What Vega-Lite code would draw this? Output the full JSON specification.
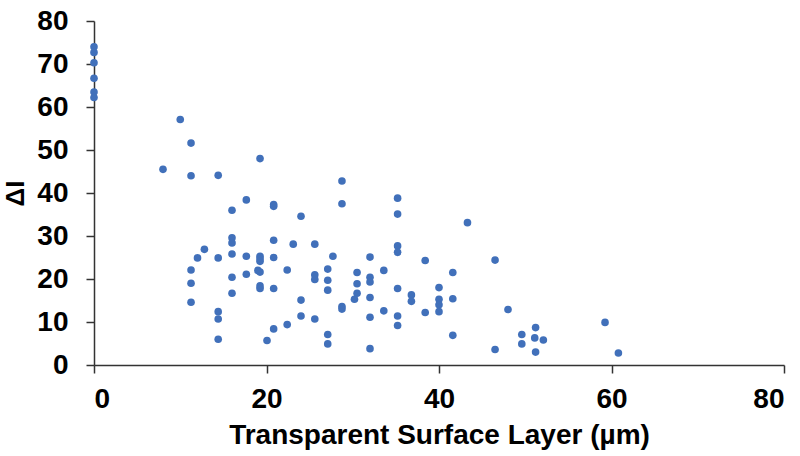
{
  "$schema": "https://vega.github.io/schema/vega-lite/v6.json",
  "width": 690,
  "height": 344,
  "autosize": {"type": "none"},
  "padding": {"left": 94, "top": 21, "right": 16, "bottom": 91},
  "background": "white",
  "config": {"view": {"stroke": null}, "font": "Liberation Sans"},
  "data": {"values": [
    {"x": 0, "y": 74.0}, {"x": 0, "y": 72.7}, {"x": 0, "y": 70.3}, {"x": 0, "y": 66.7}, {"x": 0, "y": 63.5}, {"x": 0, "y": 62.2},
    {"x": 10.0, "y": 57.1}, {"x": 11.25, "y": 51.6}, {"x": 19.25, "y": 48.0}, {"x": 8.0, "y": 45.5}, {"x": 11.25, "y": 44.0}, {"x": 14.4, "y": 44.1},
    {"x": 17.66, "y": 38.4}, {"x": 20.83, "y": 37.3}, {"x": 20.83, "y": 36.9}, {"x": 16.0, "y": 36.0}, {"x": 24.0, "y": 34.6},
    {"x": 16.0, "y": 29.6}, {"x": 16.0, "y": 28.4}, {"x": 20.83, "y": 29.0}, {"x": 23.1, "y": 28.1}, {"x": 25.6, "y": 28.1},
    {"x": 12.8, "y": 26.9}, {"x": 12.0, "y": 24.9}, {"x": 14.4, "y": 24.9}, {"x": 16.0, "y": 25.8}, {"x": 17.66, "y": 25.3},
    {"x": 19.25, "y": 25.3}, {"x": 19.25, "y": 24.7}, {"x": 19.25, "y": 24.1}, {"x": 20.83, "y": 25.0},
    {"x": 11.25, "y": 22.1}, {"x": 22.4, "y": 22.1}, {"x": 27.1, "y": 22.3}, {"x": 19.0, "y": 22.0}, {"x": 19.25, "y": 21.6},
    {"x": 16.0, "y": 20.4}, {"x": 17.66, "y": 21.1}, {"x": 25.6, "y": 21.0}, {"x": 25.6, "y": 19.9}, {"x": 27.1, "y": 19.7},
    {"x": 11.25, "y": 19.0}, {"x": 19.25, "y": 18.4}, {"x": 19.25, "y": 17.8}, {"x": 20.83, "y": 17.8}, {"x": 27.1, "y": 17.4},
    {"x": 16.0, "y": 16.7}, {"x": 24.0, "y": 15.1}, {"x": 11.25, "y": 14.6}, {"x": 14.4, "y": 12.4}, {"x": 14.4, "y": 10.7},
    {"x": 24.0, "y": 11.4}, {"x": 22.4, "y": 9.4}, {"x": 25.6, "y": 10.7}, {"x": 20.83, "y": 8.4}, {"x": 27.1, "y": 7.1},
    {"x": 27.1, "y": 4.9}, {"x": 14.4, "y": 6.0}, {"x": 20.06, "y": 5.7},
    {"x": 28.75, "y": 42.8}, {"x": 28.75, "y": 37.5}, {"x": 35.2, "y": 38.8}, {"x": 35.2, "y": 35.1}, {"x": 43.3, "y": 33.1},
    {"x": 35.2, "y": 27.7}, {"x": 35.2, "y": 26.2}, {"x": 27.7, "y": 25.3}, {"x": 32.0, "y": 25.1}, {"x": 38.4, "y": 24.3},
    {"x": 46.5, "y": 24.4}, {"x": 33.6, "y": 22.0}, {"x": 30.5, "y": 21.5}, {"x": 30.5, "y": 18.9}, {"x": 30.5, "y": 16.7},
    {"x": 30.2, "y": 15.3}, {"x": 32.0, "y": 20.4}, {"x": 32.0, "y": 19.3}, {"x": 32.0, "y": 15.7}, {"x": 32.0, "y": 11.1},
    {"x": 32.0, "y": 3.8}, {"x": 41.6, "y": 21.5}, {"x": 40.0, "y": 18.0}, {"x": 40.0, "y": 15.3}, {"x": 40.0, "y": 14.0},
    {"x": 40.0, "y": 12.4}, {"x": 41.6, "y": 15.4}, {"x": 36.8, "y": 16.3}, {"x": 36.8, "y": 14.8}, {"x": 35.2, "y": 17.8},
    {"x": 35.2, "y": 11.4}, {"x": 35.2, "y": 9.2}, {"x": 33.6, "y": 12.6}, {"x": 38.4, "y": 12.2}, {"x": 28.75, "y": 13.6},
    {"x": 28.75, "y": 13.0}, {"x": 41.6, "y": 6.9}, {"x": 48.0, "y": 12.9}, {"x": 46.5, "y": 3.6}, {"x": 49.6, "y": 7.1},
    {"x": 49.6, "y": 4.9}, {"x": 51.2, "y": 8.7}, {"x": 51.1, "y": 6.3}, {"x": 52.1, "y": 5.8}, {"x": 51.2, "y": 3.0},
    {"x": 59.25, "y": 9.9}, {"x": 60.8, "y": 2.8}
  ]},
  "mark": {"type": "circle", "size": 58, "color": "#4170BA", "opacity": 1},
  "encoding": {
    "x": {
      "field": "x", "type": "quantitative",
      "scale": {"domain": [0, 80], "nice": false, "zero": false},
      "axis": {
        "values": [0, 20, 40, 60, 80], "grid": false,
        "title": "Transparent Surface Layer (µm)",
        "titleFont": "Liberation Sans", "titleFontSize": 28, "titleFontWeight": "bold", "titleColor": "#000", "titlePadding": 8,
        "labelFont": "Liberation Sans", "labelFontSize": 28, "labelFontWeight": "bold", "labelColor": "#000", "labelPadding": 12,
        "domainColor": "#333", "domainWidth": 1.5, "tickColor": "#333", "tickWidth": 1.5, "tickSize": 8
      }
    },
    "y": {
      "field": "y", "type": "quantitative",
      "scale": {"domain": [0, 80], "nice": false, "zero": false},
      "axis": {
        "values": [0, 10, 20, 30, 40, 50, 60, 70, 80], "grid": false,
        "title": "ΔI",
        "titleFont": "Liberation Sans", "titleFontSize": 26, "titleFontWeight": "bold", "titleColor": "#000", "titlePadding": 8,
        "labelFont": "Liberation Sans", "labelFontSize": 28, "labelFontWeight": "bold", "labelColor": "#000", "labelPadding": 18,
        "domainColor": "#333", "domainWidth": 1.5, "tickColor": "#333", "tickWidth": 1.5, "tickSize": 8
      }
    }
  }
}
